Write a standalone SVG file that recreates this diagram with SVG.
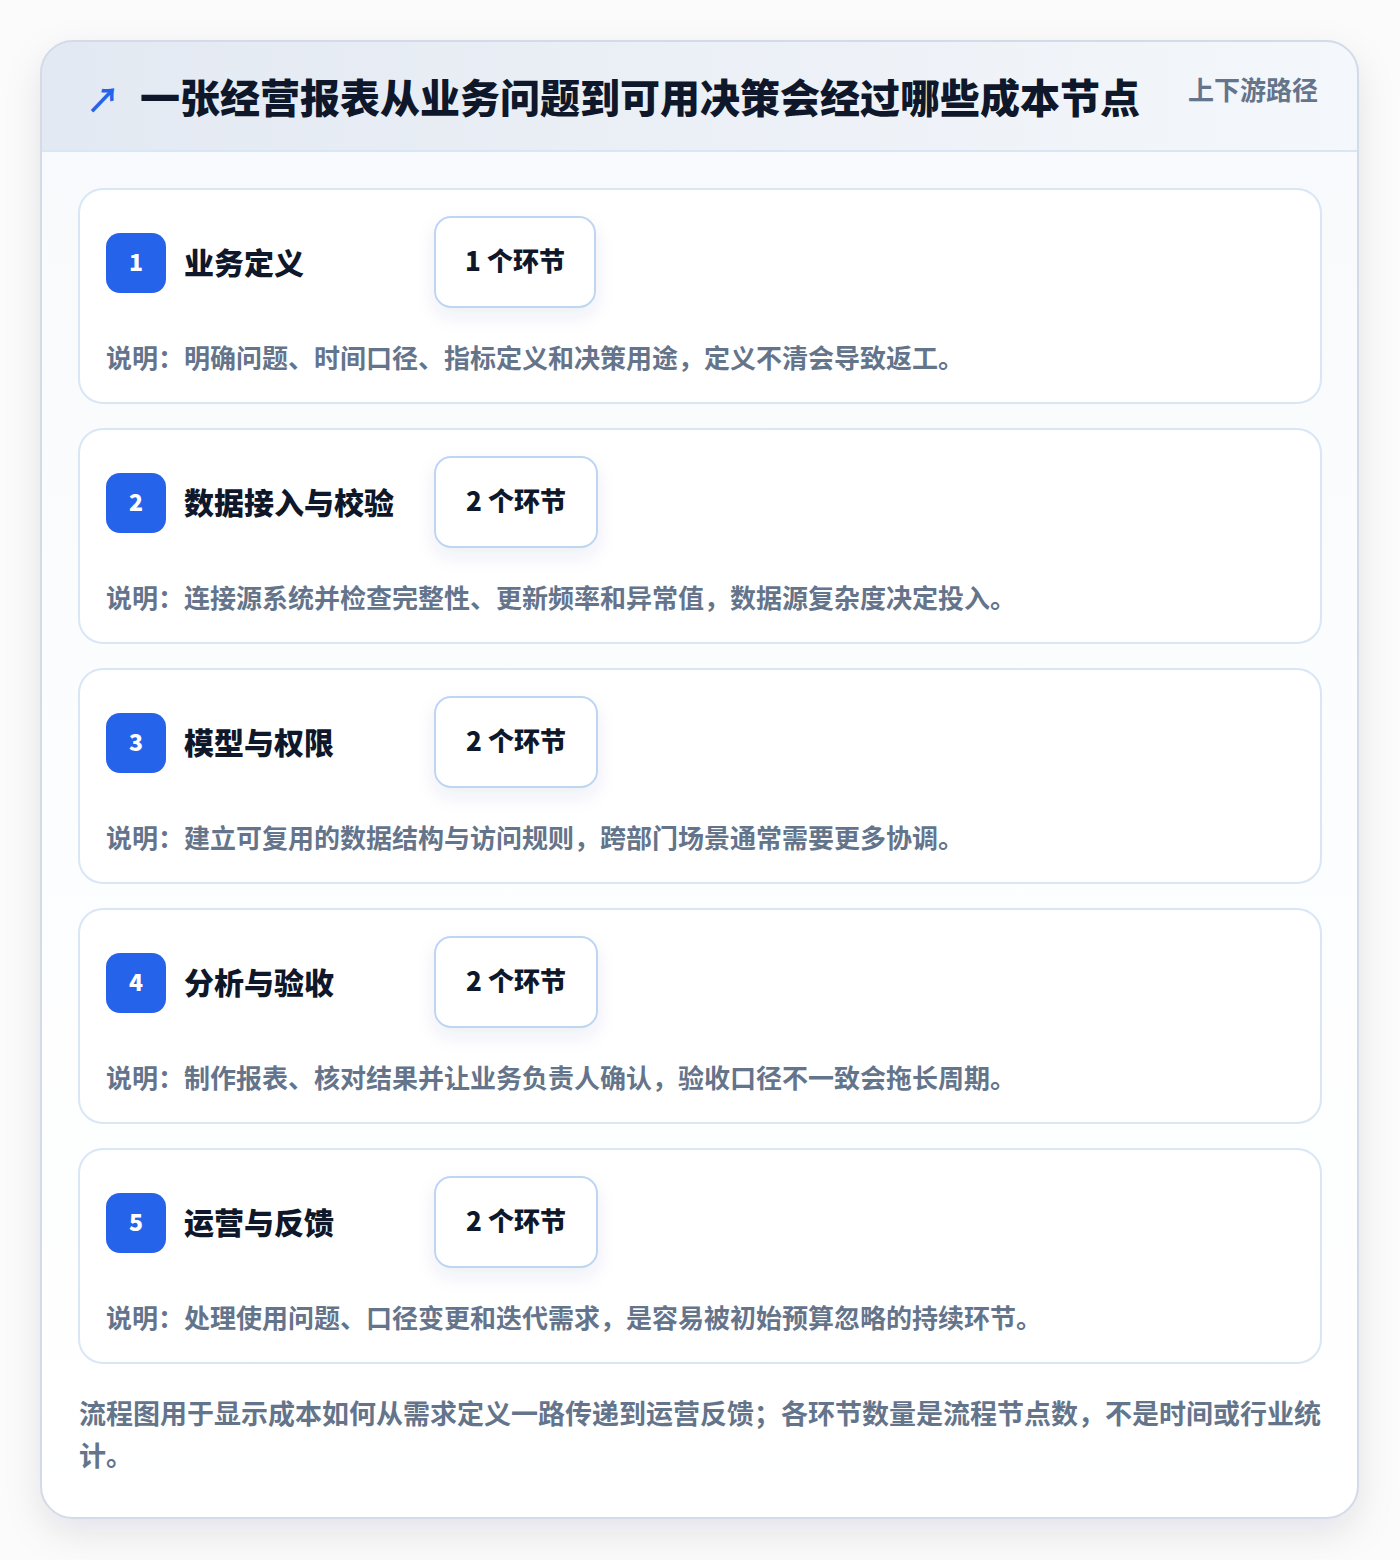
<svg xmlns="http://www.w3.org/2000/svg" width="1400" height="1560" viewBox="0 0 1400 1560">
<defs>
<linearGradient id="hdr" x1="0" y1="0" x2="1" y2="0">
<stop offset="0" stop-color="#e3e9f2"/>
<stop offset="1" stop-color="#f4f7fb"/>
</linearGradient>
<linearGradient id="body" x1="0" y1="0" x2="0" y2="1">
<stop offset="0" stop-color="#f7f9fc"/>
<stop offset="0.5" stop-color="#fcfdfe"/>
<stop offset="1" stop-color="#ffffff"/>
</linearGradient>
<filter id="outerShadow" x="-10%" y="-10%" width="120%" height="120%">
<feDropShadow dx="0" dy="14" stdDeviation="18" flood-color="#0f172a" flood-opacity="0.10"/>
</filter>
<filter id="pillShadow" x="-30%" y="-30%" width="160%" height="180%">
<feDropShadow dx="0" dy="8" stdDeviation="9" flood-color="#1e3a8a" flood-opacity="0.08"/>
</filter>
<clipPath id="outerClip">
<rect x="41" y="41" width="1317" height="1477" rx="32"/>
</clipPath>
<style>
text{font-family:"Noto Sans CJK SC","Noto Sans",sans-serif;}
.title{font-size:40px;font-weight:900;fill:#0f172a;}
.tag{font-size:26px;font-weight:700;fill:#64748b;}
.card{fill:#ffffff;stroke:#d9e6f6;stroke-width:2;}
.badge{fill:#2563eb;}
.num{font-size:23px;font-weight:900;fill:#ffffff;text-anchor:middle;}
.ctitle{font-size:30px;font-weight:900;fill:#0f172a;}
.pill{fill:#ffffff;stroke:#bfd6f3;stroke-width:2;}
.ptext{font-size:26px;font-weight:900;fill:#0f172a;text-anchor:middle;}
.desc{font-size:26px;font-weight:700;fill:#64748b;}
.foot{font-size:27px;font-weight:700;fill:#64748b;}
</style>
</defs>
<rect x="0" y="0" width="1400" height="1560" fill="#fbfbfc"/>
<g id="frame">
<rect x="41" y="41" width="1317" height="1477" rx="32" fill="url(#body)" filter="url(#outerShadow)"/>
<g clip-path="url(#outerClip)">
<rect x="41" y="41" width="1317" height="110" fill="url(#hdr)"/>
<line x1="41" y1="151" x2="1358" y2="151" stroke="#d9e6f6" stroke-width="2"/>
</g>
<rect x="41" y="41" width="1317" height="1477" rx="32" fill="none" stroke="#d2dbe7" stroke-width="2"/>
</g>
<g id="header">
<text x="86" y="113" font-size="34" font-weight="700" fill="#2563eb">↗</text>
<text class="title" x="140" y="113">一张经营报表从业务问题到可用决策会经过哪些成本节点</text>
<text class="tag" x="1188" y="100">上下游路径</text>
</g>
<g id="connectors"></g>
<g id="node1" transform="translate(0,189)">
<rect class="card" x="79" y="0" width="1242" height="214" rx="24"/>
<rect class="badge" x="106" y="44" width="60" height="60" rx="14"/>
<text class="num" x="136" y="82">1</text>
<text class="ctitle" x="184" y="85">业务定义</text>
<rect class="pill" x="435" y="28" width="160" height="90" rx="16" filter="url(#pillShadow)"/>
<text class="ptext" x="515" y="82">1 个环节</text>
<text class="desc" x="106" y="179">说明：明确问题、时间口径、指标定义和决策用途，定义不清会导致返工。</text>
</g>
<g id="node2" transform="translate(0,429)">
<rect class="card" x="79" y="0" width="1242" height="214" rx="24"/>
<rect class="badge" x="106" y="44" width="60" height="60" rx="14"/>
<text class="num" x="136" y="82">2</text>
<text class="ctitle" x="184" y="85">数据接入与校验</text>
<rect class="pill" x="435" y="28" width="162" height="90" rx="16" filter="url(#pillShadow)"/>
<text class="ptext" x="516" y="82">2 个环节</text>
<text class="desc" x="106" y="179">说明：连接源系统并检查完整性、更新频率和异常值，数据源复杂度决定投入。</text>
</g>
<g id="node3" transform="translate(0,669)">
<rect class="card" x="79" y="0" width="1242" height="214" rx="24"/>
<rect class="badge" x="106" y="44" width="60" height="60" rx="14"/>
<text class="num" x="136" y="82">3</text>
<text class="ctitle" x="184" y="85">模型与权限</text>
<rect class="pill" x="435" y="28" width="162" height="90" rx="16" filter="url(#pillShadow)"/>
<text class="ptext" x="516" y="82">2 个环节</text>
<text class="desc" x="106" y="179">说明：建立可复用的数据结构与访问规则，跨部门场景通常需要更多协调。</text>
</g>
<g id="node4" transform="translate(0,909)">
<rect class="card" x="79" y="0" width="1242" height="214" rx="24"/>
<rect class="badge" x="106" y="44" width="60" height="60" rx="14"/>
<text class="num" x="136" y="82">4</text>
<text class="ctitle" x="184" y="85">分析与验收</text>
<rect class="pill" x="435" y="28" width="162" height="90" rx="16" filter="url(#pillShadow)"/>
<text class="ptext" x="516" y="82">2 个环节</text>
<text class="desc" x="106" y="179">说明：制作报表、核对结果并让业务负责人确认，验收口径不一致会拖长周期。</text>
</g>
<g id="node5" transform="translate(0,1149)">
<rect class="card" x="79" y="0" width="1242" height="214" rx="24"/>
<rect class="badge" x="106" y="44" width="60" height="60" rx="14"/>
<text class="num" x="136" y="82">5</text>
<text class="ctitle" x="184" y="85">运营与反馈</text>
<rect class="pill" x="435" y="28" width="162" height="90" rx="16" filter="url(#pillShadow)"/>
<text class="ptext" x="516" y="82">2 个环节</text>
<text class="desc" x="106" y="179">说明：处理使用问题、口径变更和迭代需求，是容易被初始预算忽略的持续环节。</text>
</g>
<g id="footer">
<text class="foot" x="79" y="1424">流程图用于显示成本如何从需求定义一路传递到运营反馈；各环节数量是流程节点数，不是时间或行业统</text>
<text class="foot" x="79" y="1466">计。</text>
</g>
</svg>
